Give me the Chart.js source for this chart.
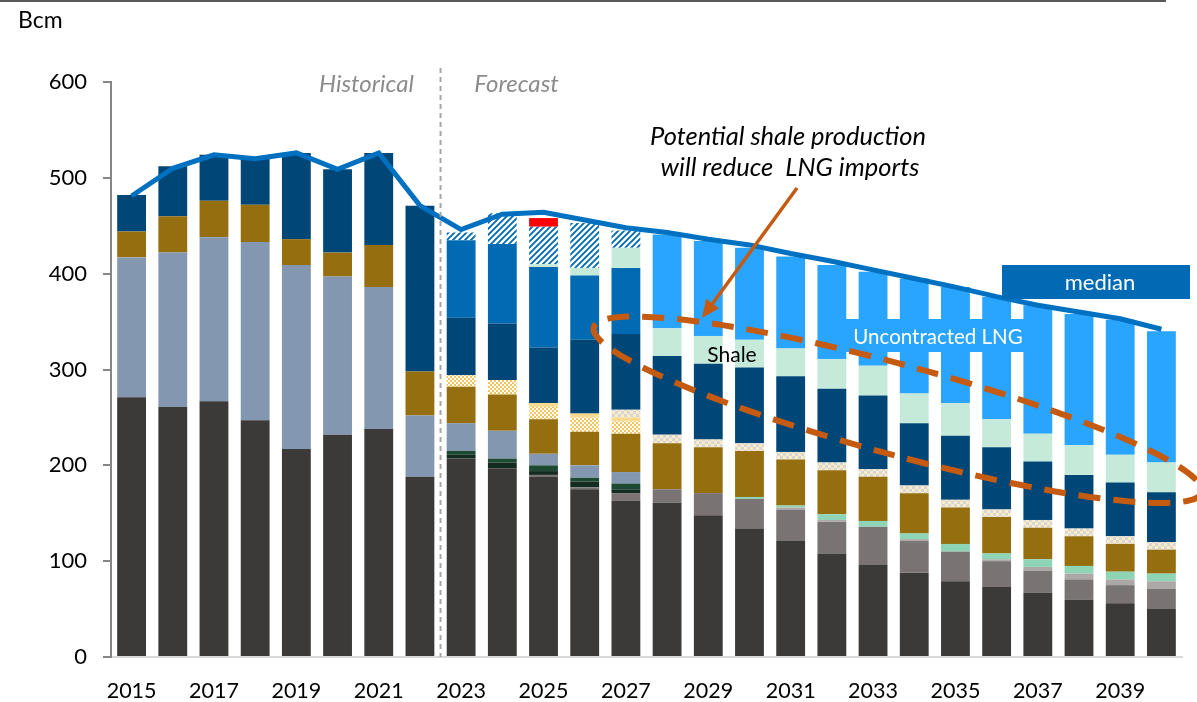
<!DOCTYPE html>
<html>
<head>
<meta charset="utf-8">
<script src="https://cdn.jsdelivr.net/npm/chart.js@4.4.0/dist/chart.umd.min.js"></script>
<style>
  html, body { margin: 0; padding: 0; background: #fff; }
  #wrap { width: 1197px; height: 702px; position: relative; }
</style>
</head>
<body>
<div id="wrap"><canvas id="myChart" width="1197" height="702"></canvas></div>
<script>
// years on the x axis
const years = [2015, 2016, 2017, 2018, 2019, 2020, 2021, 2022, 2023, 2024, 2025, 2026, 2027,
  2028, 2029, 2030, 2031, 2032, 2033, 2034, 2035, 2036, 2037, 2038, 2039, 2040];

// stacked series, bottom to top (Bcm)
const darkGray   = [271, 261, 267, 247, 217, 232, 238, 188, 207, 197, 188, 175, 163, 161, 148, 134, 121, 108, 96, 88, 79, 73, 67, 60, 56, 50];
const medGray    = [0, 0, 0, 0, 0, 0, 0, 0, 0, 0, 2, 2, 8, 14, 23, 31, 33, 33, 40, 33, 31, 27, 23, 21, 19, 21];
const lightGray  = [0, 0, 0, 0, 0, 0, 0, 0, 0, 0, 0, 0, 0, 0, 0, 0, 2, 2, 0, 2, 0, 2, 4, 6, 6, 8];
const mintGreen  = [0, 0, 0, 0, 0, 0, 0, 0, 0, 0, 0, 0, 0, 0, 0, 2, 2, 6, 6, 6, 8, 6, 8, 8, 8, 8];
const deepGreen  = [0, 0, 0, 0, 0, 0, 0, 0, 4, 6, 4, 6, 4, 0, 0, 0, 0, 0, 0, 0, 0, 0, 0, 0, 0, 0];
const darkGreen  = [0, 0, 0, 0, 0, 0, 0, 0, 4, 4, 6, 4, 6, 0, 0, 0, 0, 0, 0, 0, 0, 0, 0, 0, 0, 0];
const steel      = [146, 161, 171, 186, 192, 165, 148, 64, 29, 29, 12, 13, 12, 0, 0, 0, 0, 0, 0, 0, 0, 0, 0, 0, 0, 0];
const brown      = [27, 38, 38, 39, 27, 25, 44, 46, 38, 38, 36, 35, 40, 48, 48, 48, 48, 46, 46, 42, 38, 38, 33, 31, 29, 25];
const ylwCheck   = [0, 0, 0, 0, 0, 0, 0, 0, 12, 15, 13, 15, 13, 0, 0, 0, 0, 0, 0, 0, 0, 0, 0, 0, 0, 0];
const paleYellow = [0, 0, 0, 0, 0, 0, 0, 0, 0, 0, 4, 4, 4, 0, 0, 0, 0, 0, 0, 0, 0, 0, 0, 0, 0, 0];
const beigeCheck = [0, 0, 0, 0, 0, 0, 0, 0, 0, 0, 0, 0, 8, 9, 8, 8, 8, 8, 8, 8, 8, 8, 8, 8, 8, 8];
const navy       = [38, 52, 48, 49, 90, 87, 96, 173, 60, 59, 58, 77, 79, 82, 79, 79, 79, 77, 77, 65, 67, 65, 61, 56, 56, 52];
const midBlue    = [0, 0, 0, 0, 0, 0, 0, 0, 81, 83, 84, 67, 69, 0, 0, 0, 0, 0, 0, 0, 0, 0, 0, 0, 0, 0];
const shale      = [0, 0, 0, 0, 0, 0, 0, 0, 0, 0, 3, 8, 21, 29, 29, 29, 29, 31, 31, 31, 34, 29, 29, 31, 29, 31];
const hatched    = [0, 0, 0, 0, 0, 0, 0, 0, 8, 32, 39, 47, 18, 0, 0, 0, 0, 0, 0, 0, 0, 0, 0, 0, 0, 0];
const red        = [0, 0, 0, 0, 0, 0, 0, 0, 0, 0, 9, 0, 0, 0, 0, 0, 0, 0, 0, 0, 0, 0, 0, 0, 0, 0];
const uncontracted = [0, 0, 0, 0, 0, 0, 0, 0, 0, 0, 0, 0, 0, 98, 99, 96, 96, 98, 98, 120, 121, 128, 134, 137, 141, 137];

// median line
const median = [481, 510, 524, 520, 526, 509, 526, 471, 446, 462, 464, 456, 448, 443, 436, 430, 421, 413, 404, 395, 386, 376, 367, 360, 353, 342];

const yTicks = [0, 100, 200, 300, 400, 500, 600];
const FONT = 'Lato, "Open Sans", sans-serif';

// fill patterns
function checker(c1, c2, s) {
  const c = document.createElement('canvas');
  c.width = 2 * s; c.height = 2 * s;
  const g = c.getContext('2d');
  g.fillStyle = c1; g.fillRect(0, 0, 2 * s, 2 * s);
  g.fillStyle = c2; g.fillRect(0, 0, s, s); g.fillRect(s, s, s, s);
  return g.createPattern(c, 'repeat');
}
function hatch(bg, fg, s) {
  const c = document.createElement('canvas');
  c.width = s; c.height = s;
  const g = c.getContext('2d');
  g.fillStyle = bg; g.fillRect(0, 0, s, s);
  g.strokeStyle = fg; g.lineWidth = 2.4;
  g.beginPath();
  g.moveTo(-1, s + 1); g.lineTo(s + 1, -1);
  g.moveTo(-1, 1); g.lineTo(1, -1);
  g.moveTo(s - 1, s + 1); g.lineTo(s + 1, s - 1);
  g.stroke();
  return g.createPattern(c, 'repeat');
}

const series = [
  ['darkGray', darkGray, '#3b3a38'],
  ['medGray', medGray, '#797473'],
  ['lightGray', lightGray, '#aba8a6'],
  ['mintGreen', mintGreen, '#8dd5b5'],
  ['deepGreen', deepGreen, '#132b20'],
  ['darkGreen', darkGreen, '#1c4a33'],
  ['steel', steel, '#8497b0'],
  ['brown', brown, '#956f0f'],
  ['ylwCheck', ylwCheck, checker('#f3c45a', '#ffffff', 2)],
  ['paleYellow', paleYellow, '#f9d98b'],
  ['beigeCheck', beigeCheck, checker('#fcecc6', '#d6d6d6', 3)],
  ['navy', navy, '#004677'],
  ['midBlue', midBlue, '#006ab3'],
  ['Shale', shale, '#c6eada'],
  ['hatched', hatched, hatch('#006ab3', '#ffffff', 6)],
  ['red', red, '#ff0000'],
  ['Uncontracted LNG', uncontracted, '#29a4ff']
];

const datasets = series.map(s => ({
  type: 'bar',
  label: s[0],
  data: s[1],
  backgroundColor: s[2],
  borderWidth: 0,
  stack: 'supply',
  order: 1,
  barPercentage: 0.7,
  categoryPercentage: 1.0
}));

datasets.push({
  type: 'line',
  label: 'median',
  data: median,
  borderColor: '#0070c0',
  borderWidth: 5,
  pointRadius: 0,
  tension: 0,
  fill: false,
  stack: 'median',
  order: 0
});

// annotations drawn over the bars
const annotate = {
  id: 'annotate',
  beforeDraw(chart) {
    const ctx = chart.ctx;
    ctx.save();
    ctx.strokeStyle = '#595959';
    ctx.lineWidth = 2;
    ctx.beginPath(); ctx.moveTo(0, 1); ctx.lineTo(1166, 1); ctx.stroke();
    ctx.fillStyle = '#000';
    ctx.font = '23px ' + FONT;
    ctx.textBaseline = 'middle';
    ctx.textAlign = 'left';
    ctx.fillText('Bcm', 18, 21);
    ctx.restore();
  },
  afterDatasetsDraw(chart) {
    const ctx = chart.ctx, xs = chart.scales.x, ys = chart.scales.y;
    const step = xs.getPixelForValue(1) - xs.getPixelForValue(0);
    const px = i => xs.getPixelForValue(0) + i * step;
    const py = v => ys.getPixelForValue(v);
    ctx.save();

    // historical / forecast split
    const xSplit = px(7.5);
    ctx.strokeStyle = '#a6a6a6';
    ctx.lineWidth = 2;
    ctx.setLineDash([5, 4]);
    ctx.beginPath(); ctx.moveTo(xSplit, 68); ctx.lineTo(xSplit, chart.chartArea.bottom); ctx.stroke();
    ctx.setLineDash([]);
    ctx.fillStyle = '#8c8c8c';
    ctx.font = 'italic 24px ' + FONT;
    ctx.textBaseline = 'middle';
    ctx.textAlign = 'center';
    ctx.fillText('Historical', xSplit - 74, 84);
    ctx.fillText('Forecast', xSplit + 76, 84);

    // Uncontracted LNG label
    ctx.fillStyle = '#29a4ff';
    ctx.fillRect(846, 319, 178, 33);
    ctx.fillStyle = '#ffffff';
    ctx.font = '20.5px ' + FONT;
    ctx.fillText('Uncontracted LNG', 938, 337);

    // Shale label
    ctx.fillStyle = '#000';
    ctx.font = '21px ' + FONT;
    ctx.fillText('Shale', 732, 355);

    // median legend box
    ctx.fillStyle = '#006ab4';
    ctx.fillRect(1002, 265, 188, 34);
    ctx.fillStyle = '#ffffff';
    ctx.font = '22px ' + FONT;
    ctx.fillText('median', 1100, 283);

    // dashed ellipse
    ctx.strokeStyle = '#c55a11';
    ctx.lineWidth = 6;
    ctx.setLineDash([22, 13]);
    ctx.beginPath();
    ctx.ellipse(px(18.6), py(258), 315, 45, 0.265, 0, Math.PI * 2);
    ctx.stroke();
    ctx.setLineDash([]);

    // arrow
    const ax0 = 797, ay0 = 188, ax1 = 702, ay1 = 318;
    const ang = Math.atan2(ay1 - ay0, ax1 - ax0);
    ctx.strokeStyle = '#c55a11';
    ctx.fillStyle = '#c55a11';
    ctx.lineWidth = 3.5;
    ctx.beginPath();
    ctx.moveTo(ax0, ay0);
    ctx.lineTo(ax1 - 14 * Math.cos(ang), ay1 - 14 * Math.sin(ang));
    ctx.stroke();
    ctx.beginPath();
    ctx.moveTo(ax1, ay1);
    ctx.lineTo(ax1 - 18 * Math.cos(ang) + 8 * Math.sin(ang), ay1 - 18 * Math.sin(ang) - 8 * Math.cos(ang));
    ctx.lineTo(ax1 - 18 * Math.cos(ang) - 8 * Math.sin(ang), ay1 - 18 * Math.sin(ang) + 8 * Math.cos(ang));
    ctx.closePath();
    ctx.fill();

    // annotation text
    ctx.fillStyle = '#000';
    ctx.font = 'italic 25.5px ' + FONT;
    ctx.fillText('Potential shale production', 788, 137);
    ctx.fillText('will reduce  LNG imports', 790, 168);
    ctx.restore();
  }
};

const ctx = document.getElementById('myChart').getContext('2d');
const myChart = new Chart(ctx, {
  data: { labels: years, datasets: datasets },
  plugins: [annotate],
  options: {
    responsive: false,
    animation: false,
    devicePixelRatio: 1,
    layout: { padding: { top: 82, right: 15, left: 0, bottom: 0 } },
    plugins: { legend: { display: false }, tooltip: { enabled: false } },
    scales: {
      x: {
        stacked: true,
        grid: { display: true, drawOnChartArea: false, drawTicks: false },
        border: { display: true, color: '#d9d9d9', width: 2 },
        ticks: {
          autoSkip: false,
          maxRotation: 0,
          padding: 21,
          color: '#000',
          font: { family: FONT, size: 21.5 },
          callback: (v, i) => (i % 2 === 0 ? String(years[i]) : '')
        },
        afterFit: s => { s.height = 45; }
      },
      y: {
        stacked: true,
        min: 0,
        max: 600,
        afterBuildTicks: s => { s.ticks = yTicks.map(v => ({ value: v })); },
        grid: { drawOnChartArea: false, drawTicks: true, tickLength: 8, color: '#868686', lineWidth: 2 },
        border: { display: true, color: '#868686', width: 2 },
        ticks: { padding: 16, color: '#000', font: { family: FONT, size: 22 } },
        afterFit: s => { s.width = 111; }
      }
    }
  }
});
</script>
</body>
</html>
